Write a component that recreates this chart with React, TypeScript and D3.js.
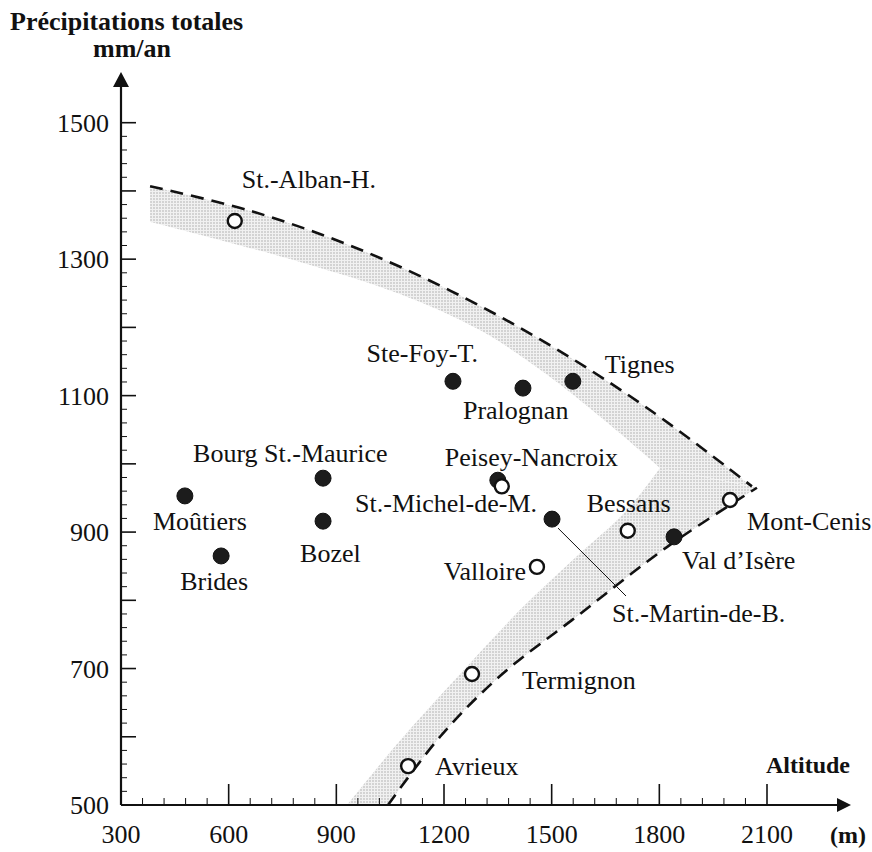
import React from "react";
import * as d3 from "d3";

// Station altitude (m) and total precipitation (mm/yr); open = open circle marker
const stationNames = [
  "St.-Alban-H.", "Ste-Foy-T.", "Pralognan", "Tignes", "Peisey-Nancroix", "",
  "St.-Michel-de-M.", "Bessans", "Val d’Isère", "Mont-Cenis", "Valloire",
  "Termignon", "Avrieux", "Bourg St.-Maurice", "Moûtiers", "Bozel", "Brides",
];
const altitudes = [617, 1225, 1420, 1559, 1350, 1361, 1501, 1712, 1841, 1997, 1459, 1278, 1100, 863, 478, 863, 579];
const precipitation = [1356, 1121, 1111, 1121, 976, 967, 919, 902, 893, 947, 849, 692, 557, 979, 953, 916, 865];
const openMarker = [true, false, false, false, false, true, false, true, false, true, true, true, true, false, false, false, false];

// Label placement relative to each marker: [dx, dy, anchor]
const labelOffsets: [number, number, string][] = [
  [7, -33, "start"], [25, -19, "end"], [-60, 31, "start"], [32, -8, "start"],
  [-53, -14, "start"], [0, 0, "start"], [-15, -7, "end"], [-41, -19, "start"],
  [8, 32, "start"], [17, 30, "start"], [-11, 13, "end"], [50, 15, "start"],
  [27, 9, "start"], [-130, -16, "start"], [-32, 34, "start"], [-23, 41, "start"],
  [-41, 34, "start"],
];

// Envelope curves [altitude, precipitation], ordered by increasing altitude
const upperEnvelope: [number, number][] = [
  [381, 1407], [659, 1371], [938, 1320], [1217, 1254], [1495, 1174], [1774, 1079], [2058, 967],
];
const upperBandInner: [number, number][] = [
  [381, 1355], [799, 1296], [1077, 1249], [1300, 1196], [1476, 1135], [1663, 1057], [1802, 994],
];
const lowerEnvelope: [number, number][] = [
  [1044, 500], [1189, 600], [1356, 689], [1579, 780], [1821, 878], [2072, 965],
];
const lowerBandInner: [number, number][] = [
  [930, 500], [1077, 594], [1245, 692], [1412, 786], [1565, 862], [1704, 929], [1802, 994],
];

const xTicks = [300, 600, 900, 1200, 1500, 1800, 2100];
const yTickLabels = [500, 700, 900, 1100, 1300, 1500];

const FONT = "Liberation Serif, DejaVu Serif, serif";

export default function App() {
  const W = 872, H = 852;
  const x = d3.scaleLinear().domain([300, 2100]).range([121, 767]);
  const y = d3.scaleLinear().domain([500, 1500]).range([805, 122.7]);

  const line = d3.line<[number, number]>()
    .x((d) => x(d[0]))
    .y((d) => y(d[1]))
    .curve(d3.curveCatmullRom.alpha(0.5));

  // closed band: outer edge forward, inner edge back
  const bandPath = (outer: [number, number][], inner: [number, number][]) =>
    (line(outer) as string) + (line([...inner].reverse()) as string).replace(/^M/, "L") + "Z";

  const xMinor = d3.range(300, 2101, 60);
  const yMinor = d3.range(500, 1501, 20);
  const yMajor = d3.range(500, 1501, 100);

  const stations = stationNames.map((name, i) => ({
    name, alt: altitudes[i], p: precipitation[i], open: openMarker[i], off: labelOffsets[i],
  }));

  const michel = stations[6];
  const mx = x(michel.alt), my = y(michel.p);
  const ink = "#111";
  const T = (props: any) => <text fontFamily={FONT} fill={ink} fontSize={26} {...props} />;

  return (
    <svg width={W} height={H} viewBox={`0 0 ${W} ${H}`}
      style={{ position: "absolute", left: 0, top: 0, background: "#fff" }}>
      <defs>
        <pattern id="stipple" width="3" height="3" patternUnits="userSpaceOnUse">
          <rect width="3" height="3" fill="#f1f1f1" />
          <circle cx="1" cy="1" r="0.7" fill="#a0a0a0" />
        </pattern>
      </defs>

      {/* stippled bands */}
      <path d={bandPath(upperEnvelope, upperBandInner)} fill="url(#stipple)" />
      <path d={bandPath(lowerEnvelope, lowerBandInner)} fill="url(#stipple)" />

      {/* dashed envelopes */}
      <path d={line(upperEnvelope) as string} fill="none" stroke={ink} strokeWidth={2.6} strokeDasharray="13 8" />
      <path d={line(lowerEnvelope) as string} fill="none" stroke={ink} strokeWidth={2.6} strokeDasharray="13 8" />

      {/* axes */}
      <line x1={x(300)} x2={840} y1={y(500)} y2={y(500)} stroke={ink} strokeWidth={2.2} />
      <path d={`M851,${y(500)} L837,${y(500) - 7} L837,${y(500) + 7} Z`} fill={ink} />
      <line x1={x(300)} x2={x(300)} y1={y(500)} y2={84} stroke={ink} strokeWidth={2.2} />
      <path d={`M${x(300)},72 L${x(300) - 8},87 L${x(300) + 8},87 Z`} fill={ink} />

      {xMinor.map((v) => {
        const major = v % 300 === 0;
        return <line key={"xm" + v} x1={x(v)} x2={x(v)} y1={y(500)} y2={y(500) - (major ? 21 : 7)}
          stroke={ink} strokeWidth={major ? 1.6 : 1} />;
      })}
      {yMinor.map((v) => {
        const major = yMajor.includes(v);
        return <line key={"ym" + v} x1={x(300)} x2={x(300) + (major ? 15 : 6)} y1={y(v)} y2={y(v)}
          stroke={ink} strokeWidth={major ? 1.6 : 1} />;
      })}

      {xTicks.map((v) => (
        <T key={"xt" + v} x={x(v)} y={843} textAnchor="middle">{v}</T>
      ))}
      {yTickLabels.map((v) => (
        <T key={"yt" + v} x={109} y={y(v) + 9} textAnchor="end">{v}</T>
      ))}

      <T x={10} y={30} fontWeight="bold">Précipitations totales</T>
      <T x={93} y={57} fontWeight="bold">mm/an</T>
      <T x={850} y={773} textAnchor="end" fontSize={24} fontWeight="bold">Altitude</T>
      <T x={866} y={843} textAnchor="end" fontSize={24} fontWeight="bold">(m)</T>

      {/* leader for St.-Martin-de-B. */}
      <line x1={mx + 6} y1={my + 9} x2={626} y2={596} stroke={ink} strokeWidth={1} />
      <T x={mx + 60} y={my + 103}>St.-Martin-de-B.</T>

      {/* stations */}
      {stations.map((s, i) => (
        <circle key={"c" + i} cx={x(s.alt)} cy={y(s.p)} r={s.open ? 7 : 8}
          fill={s.open ? "#fff" : "#1c1c1c"} stroke={ink} strokeWidth={s.open ? 2.4 : 1} />
      ))}
      {stations.filter((s) => s.name).map((s, i) => (
        <T key={"l" + i} x={x(s.alt) + s.off[0]} y={y(s.p) + s.off[1]}
          textAnchor={s.off[2]}>{s.name}</T>
      ))}
    </svg>
  );
}
